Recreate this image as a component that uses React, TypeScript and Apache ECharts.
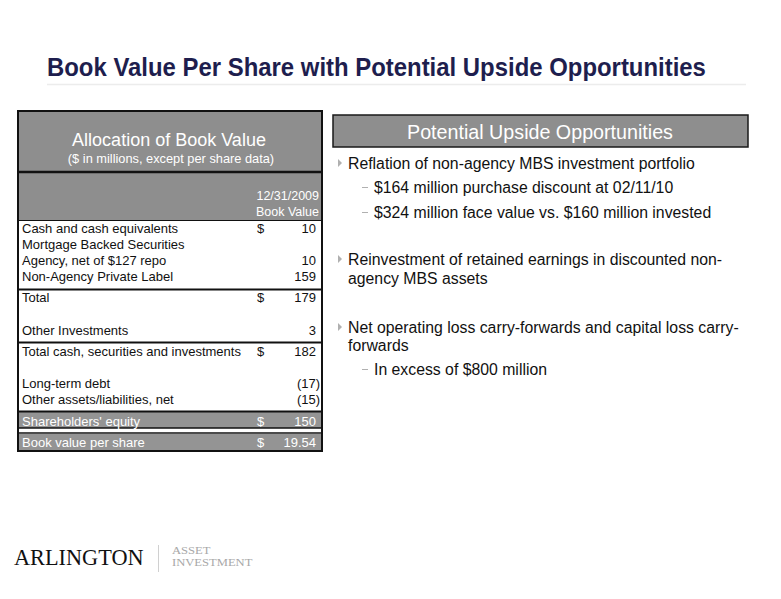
import React, { useEffect, useRef } from "react";
import * as echarts from "echarts";

const titleText = "Book Value Per Share with Potential Upside Opportunities";
const tableTitle = "Allocation of Book Value";
const tableSubtitle = "($ in millions, except per share data)";
const columnHeader = ["12/31/2009", "Book Value"];
const rowLabels = [
  "Cash and cash equivalents",
  "Mortgage Backed Securities",
  "Agency, net of $127 repo",
  "Non-Agency Private Label",
  "Total",
  "Other Investments",
  "Total cash, securities and investments",
  "Long-term debt",
  "Other assets/liabilities, net",
  "Shareholders' equity",
  "Book value per share",
];
const rowDollar = [true, false, false, false, true, false, true, false, false, true, true];
const rowValues = ["10", "", "10", "159", "179", "3", "182", "(17)", "(15)", "150", "19.54"];
const panelTitle = "Potential Upside Opportunities";
const bullets = [
  { level: 1, text: "Reflation of non-agency MBS investment portfolio" },
  { level: 2, text: "$164 million purchase discount at 02/11/10" },
  { level: 2, text: "$324 million face value vs. $160 million invested" },
  { level: 1, text: "Reinvestment of retained earnings in discounted non-" },
  { level: 0, text: "agency MBS assets" },
  { level: 1, text: "Net operating loss carry-forwards and capital loss carry-" },
  { level: 0, text: "forwards" },
  { level: 2, text: "In excess of $800 million" },
];
const logoName = "ARLINGTON";
const logoSub = ["ASSET", "INVESTMENT"];

// layout (pixel positions)
const rowY = [228, 244, 260, 276, 297, 330, 351, 383, 399, 421, 442];
const rowHighlighted = [false, false, false, false, false, false, false, false, false, true, true];
const bulletY = [163, 187, 212, 259, 278, 327, 345, 369];

const FONT = "'Liberation Sans', Arial, sans-serif";
const GREY = "#8e8e8e";

export default function App() {
  const ref = useRef<HTMLDivElement>(null);
  useEffect(() => {
    const chart = echarts.init(ref.current!, null, { renderer: "svg" });
    const els: any[] = [];
    // Title
    els.push({
      type: "text",
      x: 47,
      y: 67,
      scaleX: 0.92,
      style: {
        text: titleText,
        font: `bold 26px ${FONT}`,
        fill: "#1e1e4e",
        textVerticalAlign: "middle",
      },
    });
    els.push({
      type: "line",
      shape: { x1: 47, y1: 84.5, x2: 746, y2: 84.5 },
      style: { stroke: "#ececec", lineWidth: 1.5 },
    });

    // Table
    const L = 18, R = 322, T = 111, B = 451;
    els.push({ type: "rect", shape: { x: L, y: T, width: R - L, height: 61 }, style: { fill: GREY } });
    els.push({ type: "rect", shape: { x: L, y: 172, width: R - L, height: 48 }, style: { fill: GREY } });
    els.push({ type: "rect", shape: { x: L, y: 412, width: R - L, height: 16 }, style: { fill: "#949494" } });
    els.push({ type: "rect", shape: { x: L, y: 434, width: R - L, height: 16 }, style: { fill: "#949494" } });
    const hl = (y: number, w = 2) =>
      els.push({ type: "line", shape: { x1: L, y1: y, x2: R, y2: y }, style: { stroke: "#111", lineWidth: w } });
    hl(172, 2.5);
    hl(220.5, 1);
    hl(289.5, 2);
    hl(342.5, 2);
    hl(411.5, 2);
    hl(428, 1.5);
    hl(433, 1.5);
    els.push({
      type: "rect",
      shape: { x: L, y: T, width: R - L, height: B - T },
      style: { fill: "none", stroke: "#111", lineWidth: 2 },
    });
    els.push({
      type: "text",
      x: 169,
      y: 140,
      style: { text: tableTitle, font: `18px ${FONT}`, fill: "#fff", align: "center", textVerticalAlign: "middle" },
    });
    els.push({
      type: "text",
      x: 171,
      y: 158,
      style: { text: tableSubtitle, font: `12.8px ${FONT}`, fill: "#fff", align: "center", textVerticalAlign: "middle" },
    });
    columnHeader.forEach((t, i) =>
      els.push({
        type: "text",
        x: 319,
        y: 196 + i * 16,
        style: { text: t, font: `12.5px ${FONT}`, fill: "#fff", align: "right", textVerticalAlign: "middle" },
      })
    );
    rowLabels.forEach((lab, i) => {
      const color = rowHighlighted[i] ? "#fff" : "#111";
      const y = rowY[i];
      els.push({
        type: "text",
        x: 22,
        y,
        style: { text: lab, font: `13px ${FONT}`, fill: color, textVerticalAlign: "middle" },
      });
      if (rowDollar[i])
        els.push({
          type: "text",
          x: 257,
          y,
          style: { text: "$", font: `13px ${FONT}`, fill: color, textVerticalAlign: "middle" },
        });
      if (rowValues[i]) {
        const paren = rowValues[i].startsWith("(");
        els.push({
          type: "text",
          x: paren ? 320 : 316,
          y,
          style: { text: rowValues[i], font: `13px ${FONT}`, fill: color, align: "right", textVerticalAlign: "middle" },
        });
      }
    });

    // Right panel
    els.push({
      type: "rect",
      shape: { x: 333, y: 115, width: 415, height: 32 },
      style: { fill: GREY, stroke: "#1a1a1a", lineWidth: 1.5 },
    });
    els.push({
      type: "text",
      x: 540,
      y: 132,
      style: { text: panelTitle, font: `19.7px ${FONT}`, fill: "#fff", align: "center", textVerticalAlign: "middle" },
    });
    bullets.forEach((b, i) => {
      const y = bulletY[i];
      if (b.level === 1) {
        els.push({
          type: "polygon",
          shape: { points: [[338, y - 4], [338, y + 4], [342, y]] },
          style: { fill: "#b0b0b0" },
        });
      }
      if (b.level === 2) {
        els.push({
          type: "line",
          shape: { x1: 362, y1: y + 0.5, x2: 368, y2: y + 0.5 },
          style: { stroke: "#b0b0b0", lineWidth: 1 },
        });
      }
      els.push({
        type: "text",
        x: b.level === 2 ? 374 : 348,
        y,
        style: { text: b.text, font: `15.8px ${FONT}`, fill: "#111", textVerticalAlign: "middle" },
      });
    });

    // Logo
    els.push({
      type: "text",
      x: 14,
      y: 557,
      scaleX: 0.97,
      style: { text: logoName, font: `23px 'Liberation Serif', 'DejaVu Serif', serif`, fill: "#111", textVerticalAlign: "middle" },
    });
    els.push({
      type: "line",
      shape: { x1: 158.5, y1: 545, x2: 158.5, y2: 572 },
      style: { stroke: "#d0d0d0", lineWidth: 1 },
    });
    logoSub.forEach((t, i) =>
      els.push({
        type: "text",
        x: 172,
        y: 551 + i * 12,
        scaleX: 1.2,
        style: { text: t, font: `10.5px 'Liberation Serif', serif`, fill: "#a8a8a8", textVerticalAlign: "middle" },
      })
    );

    chart.setOption({
      animation: false,
      backgroundColor: "#fff",
      graphic: { elements: els },
    });
    return () => chart.dispose();
  }, []);
  return (
    <div
      ref={ref}
      style={{ position: "absolute", left: 0, top: 0, width: 781, height: 599 }}
    />
  );
}
